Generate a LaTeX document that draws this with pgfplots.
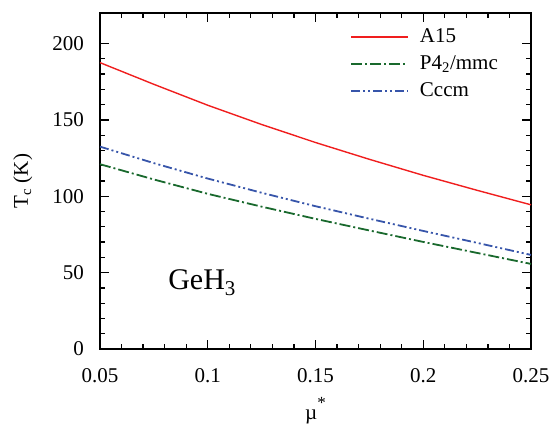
\documentclass[border=0pt]{standalone}
\usepackage{fontspec}
\setmainfont{Liberation Serif}
\usepackage{pgfplots}
\pgfplotsset{compat=1.18}
\definecolor{lred}{RGB}{240,30,30}
\definecolor{lgreen}{RGB}{25,105,45}
\definecolor{lblue}{RGB}{55,85,170}
\begin{document}
\fontsize{21}{25}\selectfont
\begin{tikzpicture}
\begin{axis}[
    name=ax,
    scale only axis,
    width=431pt, height=336pt,
    xmin=0.05, xmax=0.25,
    ymin=0, ymax=220,
    xtick={0.05,0.1,0.15,0.2,0.25},
    xticklabels={0.05,0.1,0.15,0.2,0.25},
    ytick={0,50,100,150,200},
    yticklabels={0,50,100,150,200},
    minor x tick num=4,
    minor y tick num=4,
    tick align=inside,
    major tick length=9pt,
    minor tick length=5pt,
    axis line style={line width=1.8pt},
    every tick/.style={black, line width=1.3pt},
    ticklabel style={font=\rmfamily\fontsize{21}{25}\selectfont},
    xticklabel style={yshift=-12pt},
    yticklabel style={xshift=-9pt},
    xlabel={\textmu\raisebox{0.55em}{\fontsize{17}{20}\selectfont *}},
    ylabel={T$_{\mathrm{c}}$ (K)},
    label style={font=\fontsize{21}{25}\selectfont},
    xlabel style={at={(axis description cs:0.5,-0.21)}, anchor=base},
    ylabel style={at={(axis description cs:-0.14,0.5)}, anchor=south},
    legend style={draw=none, fill=none, inner sep=0pt, at={(0.58,0.96)}, anchor=north west,
        font=\fontsize{21}{25}\selectfont, row sep=6pt, column sep=9pt},
    legend cell align=left,
]
\addplot[lred, line width=1.4pt,
    legend image code/.code={\draw[lred, line width=1.4pt] (0pt,0pt) -- (57pt,0pt);}] coordinates {
    (0.05,187.5) (0.075,173.3) (0.1,159.6) (0.125,147.0) (0.15,135.2)
    (0.175,124.2) (0.2,113.7) (0.225,103.9) (0.25,94.4)
};
\addlegendentry{A15}
\addplot[lgreen, line width=1.8pt, dash pattern=on 11pt off 3pt on 2pt off 3pt,
    legend image code/.code={\draw[lgreen, line width=1.8pt, dash pattern=on 11pt off 3pt on 2pt off 3pt] (0pt,0pt) -- (57pt,0pt);}] coordinates {
    (0.05,121.0) (0.075,111.0) (0.1,101.6) (0.125,93.2) (0.15,85.2)
    (0.175,77.6) (0.2,70.1) (0.225,62.9) (0.25,55.7)
};
\addlegendentry{P4$_{\mathrm{2}}$/mmc}
\addplot[lblue, line width=1.8pt, dash pattern=on 9pt off 3pt on 2pt off 3pt on 2pt off 3pt,
    legend image code/.code={\draw[lblue, line width=1.8pt, dash pattern=on 9pt off 3pt on 2pt off 3pt on 2pt off 3pt] (0pt,0pt) -- (57pt,0pt);}] coordinates {
    (0.05,132.5) (0.075,121.7) (0.1,111.6) (0.125,102.3) (0.15,93.5)
    (0.175,85.3) (0.2,77.3) (0.225,69.5) (0.25,61.6)
};
\addlegendentry{Cccm}
\node[font=\fontsize{30}{34}\selectfont, anchor=base west, inner sep=0pt] at (axis cs:0.0816,38.7) {GeH$_{\mathrm{3}}$};
\end{axis}
\path ([shift={(-100pt,-75pt)}]ax.south west) ([shift={(29pt,13pt)}]ax.north east);
\end{tikzpicture}
\end{document}
